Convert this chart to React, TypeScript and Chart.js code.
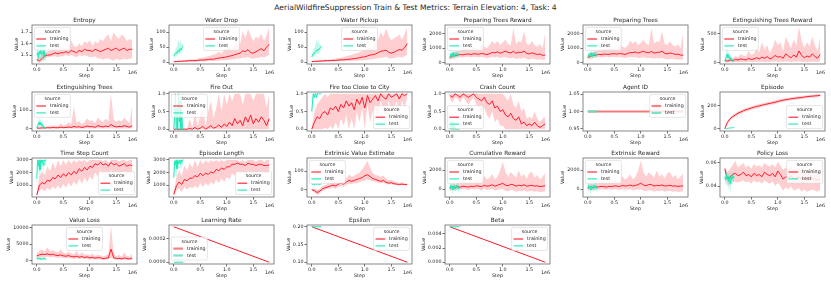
import React, { useEffect, useRef } from "react";
import { Chart, registerables } from "chart.js";
Chart.register(...registerables);

const FONT = "'DejaVu Sans', 'Liberation Sans', sans-serif";
const TEXT = "#262626";
const TICK = "#333333";
const FRAME = "#7a7a7a";
const RED = "#ff1a2a";
const RED_BAND = "rgba(255,30,45,0.22)";
const TEAL = "#1de9b6";
const TEAL_BAND = "rgba(29,233,182,0.28)";

const MAIN_TITLE = "AerialWildfireSuppression Train & Test Metrics: Terrain Elevation: 4, Task: 4";

// ---------- steps ----------
const STEPS = [
  0, 50000, 100000, 150000, 200000, 250000, 300000, 350000, 400000, 450000,
  500000, 550000, 600000, 650000, 700000, 750000, 800000, 850000, 900000, 950000,
  1000000, 1050000, 1100000, 1150000, 1200000, 1250000, 1300000, 1350000, 1400000, 1450000,
  1500000, 1550000, 1600000, 1650000, 1700000, 1750000, 1800000,
];
const TEST_STEPS = [0, 15000, 30000, 45000, 60000, 75000, 90000, 105000, 120000, 135000, 150000, 165000, 180000];
const LINE_STEPS = [0, 1800000];
const TEST_LINE_STEPS = [0, 180000];
const X_TICKS = [0, 500000, 1000000, 1500000];

// ---------- Entropy ----------
const ENTROPY = [
  1.46, 1.45, 1.47, 1.49, 1.5, 1.5, 1.51, 1.52, 1.51, 1.52,
  1.52, 1.53, 1.52, 1.54, 1.53, 1.52, 1.54, 1.53, 1.55, 1.54,
  1.54, 1.53, 1.55, 1.54, 1.53, 1.54, 1.55, 1.56, 1.54, 1.55,
  1.56, 1.54, 1.55, 1.56, 1.54, 1.55, 1.55,
];
const ENTROPY_HI = [
  1.48, 1.48, 1.5, 1.52, 1.53, 1.54, 1.55, 1.56, 1.55, 1.56,
  1.57, 1.56, 1.57, 1.63, 1.58, 1.57, 1.6, 1.58, 1.62, 1.6,
  1.63, 1.58, 1.62, 1.6, 1.64, 1.62, 1.66, 1.68, 1.62, 1.7,
  1.66, 1.64, 1.68, 1.66, 1.62, 1.64, 1.63,
];
const ENTROPY_LO = [
  1.44, 1.43, 1.45, 1.47, 1.48, 1.48, 1.49, 1.49, 1.48, 1.49,
  1.49, 1.5, 1.49, 1.5, 1.49, 1.48, 1.5, 1.49, 1.5, 1.49,
  1.48, 1.48, 1.49, 1.47, 1.47, 1.46, 1.47, 1.47, 1.46, 1.45,
  1.47, 1.46, 1.46, 1.47, 1.46, 1.47, 1.47,
];
const ENTROPY_TEST = [1.5, 1.52, 1.48, 1.53, 1.51, 1.55, 1.5, 1.52, 1.54, 1.49, 1.52, 1.51, 1.5];
const ENTROPY_TEST_HI = [1.55, 1.58, 1.56, 1.6, 1.57, 1.62, 1.58, 1.59, 1.6, 1.56, 1.58, 1.57, 1.56];
const ENTROPY_TEST_LO = [1.45, 1.46, 1.44, 1.47, 1.45, 1.48, 1.45, 1.46, 1.47, 1.44, 1.46, 1.45, 1.45];
const ENTROPY_TICKS = [1.5, 1.6, 1.7];

// ---------- Water Drop ----------
const WATER_DROP = [
  2, 2, 3, 3, 4, 4, 5, 5, 5, 6,
  7, 7, 8, 9, 10, 10, 12, 14, 15, 16,
  18, 20, 22, 25, 28, 30, 38, 35, 42, 32,
  30, 35, 40, 45, 38, 50, 60,
];
const WATER_DROP_HI = [
  4, 4, 5, 6, 7, 8, 9, 9, 10, 12,
  14, 15, 18, 20, 22, 25, 28, 35, 30, 40,
  45, 50, 40, 55, 70, 60, 105, 80, 110, 90,
  70, 85, 80, 95, 70, 90, 118,
];
const WATER_DROP_LO = [
  0, 0, 1, 1, 1, 1, 2, 2, 2, 2,
  3, 3, 3, 3, 4, 4, 5, 5, 6, 6,
  7, 8, 9, 10, 12, 12, 15, 15, 18, 12,
  12, 14, 15, 18, 15, 20, 25,
];
const WATER_DROP_TEST = [20, 25, 28, 32, 30, 38, 40, 35, 45, 42, 48, 50, 52];
const WATER_DROP_TEST_HI = [28, 35, 40, 50, 48, 65, 75, 60, 78, 65, 62, 60, 62];
const WATER_DROP_TEST_LO = [12, 15, 18, 22, 20, 25, 28, 25, 30, 30, 35, 38, 40];
const WATER_TICKS = [0, 50, 100];

// ---------- Water Pickup ----------
const WATER_PICKUP = [
  2, 3, 3, 4, 4, 5, 5, 5, 6, 6,
  7, 8, 8, 9, 10, 11, 12, 13, 15, 17,
  18, 21, 24, 25, 27, 32, 36, 38, 40, 33,
  30, 33, 38, 42, 40, 48, 62,
];
const WATER_PICKUP_HI = [
  4, 5, 5, 6, 7, 8, 9, 10, 10, 12,
  14, 15, 17, 20, 22, 24, 28, 30, 33, 38,
  42, 48, 45, 52, 65, 75, 100, 85, 112, 88,
  72, 80, 85, 92, 75, 95, 115,
];
const WATER_PICKUP_LO = [
  0, 0, 1, 1, 1, 1, 2, 2, 2, 2,
  3, 3, 3, 3, 4, 4, 5, 5, 6, 6,
  7, 8, 9, 10, 12, 13, 15, 16, 18, 13,
  12, 14, 16, 18, 16, 20, 25,
];
const WATER_PICKUP_TEST = [18, 24, 28, 30, 33, 36, 40, 38, 44, 42, 46, 50, 50];
const WATER_PICKUP_TEST_HI = [26, 35, 42, 48, 52, 62, 78, 62, 75, 66, 60, 58, 60];
const WATER_PICKUP_TEST_LO = [10, 14, 18, 20, 22, 25, 28, 26, 30, 30, 34, 38, 40];

// ---------- Preparing Trees Reward ----------
const PREP_REWARD = [
  350, 450, 480, 520, 560, 540, 580, 600, 560, 620,
  600, 580, 640, 600, 550, 620, 700, 680, 750, 650,
  720, 800, 700, 680, 780, 650, 720, 700, 800, 640,
  600, 680, 620, 560, 600, 500, 520,
];
const PREP_REWARD_HI = [
  500, 700, 750, 800, 850, 900, 950, 1000, 900, 1100,
  1000, 900, 1300, 1100, 1000, 1200, 1500, 1300, 1500, 1200,
  1400, 1600, 1300, 1200, 2400, 1300, 1500, 1400, 2200, 1300,
  1200, 1500, 1200, 1100, 1300, 1000, 2100,
];
const PREP_REWARD_LO = [
  200, 250, 300, 350, 380, 350, 380, 400, 350, 400,
  380, 350, 400, 350, 300, 350, 400, 350, 400, 300,
  350, 400, 300, 300, 350, 250, 300, 280, 350, 250,
  200, 280, 250, 200, 230, 180, 200,
];
const PREP_REWARD_TEST = [300, 600, 450, 650, 500, 700, 400, 600, 550, 650, 500, 600, 550];
const PREP_REWARD_TEST_HI = [500, 800, 650, 850, 700, 900, 600, 800, 750, 850, 700, 800, 750];
const PREP_REWARD_TEST_LO = [150, 400, 250, 450, 300, 500, 200, 400, 350, 450, 300, 400, 350];
const PREP_TICKS = [0, 1000, 2000];

// ---------- Preparing Trees ----------
const PREP_TREES = [
  360, 440, 500, 510, 570, 550, 590, 580, 570, 610,
  620, 590, 630, 610, 560, 640, 690, 700, 740, 660,
  730, 780, 710, 690, 770, 660, 700, 720, 790, 650,
  610, 670, 630, 570, 590, 520, 510,
];
const PREP_TREES_HI = [
  520, 690, 760, 790, 860, 880, 960, 980, 920, 1080,
  1020, 920, 1280, 1120, 1020, 1180, 1520, 1320, 1480, 1220,
  1380, 1580, 1320, 1220, 2380, 1320, 1480, 1420, 2180, 1320,
  1220, 1480, 1220, 1120, 1280, 1020, 2080,
];
const PREP_TREES_LO = [
  210, 240, 310, 340, 390, 360, 370, 410, 360, 390,
  390, 360, 390, 360, 310, 360, 390, 360, 390, 310,
  340, 390, 310, 310, 340, 260, 310, 290, 340, 260,
  210, 270, 260, 210, 220, 190, 210,
];
const PREP_TREES_TEST = [320, 580, 470, 630, 520, 680, 420, 620, 530, 640, 520, 590, 560];
const PREP_TREES_TEST_HI = [520, 780, 670, 830, 720, 880, 620, 820, 730, 840, 720, 790, 760];
const PREP_TREES_TEST_LO = [160, 380, 270, 430, 320, 480, 220, 420, 330, 440, 320, 390, 360];

// ---------- Extinguishing Trees Reward ----------
const EXT_REWARD = [
  30, 20, 40, 30, 50, 40, 60, 50, 40, 70,
  50, 60, 80, 60, 90, 70, 100, 60, 80, 120,
  90, 100, 70, 150, 110, 80, 130, 90, 200, 120,
  80, 110, 90, 150, 100, 70, 140,
];
const EXT_REWARD_HI = [
  60, 50, 80, 70, 110, 90, 140, 120, 100, 200,
  130, 150, 250, 180, 350, 220, 300, 160, 250, 400,
  300, 350, 200, 450, 350, 250, 400, 300, 620, 380,
  250, 350, 280, 450, 300, 200, 450,
];
const EXT_REWARD_LO = [
  0, 0, 5, 0, 5, 0, 10, 5, 0, 10,
  5, 5, 10, 5, 10, 5, 15, 5, 10, 15,
  10, 10, 5, 20, 10, 5, 15, 10, 20, 10,
  5, 10, 5, 15, 10, 5, 15,
];
const EXT_REWARD_TEST = [20, 60, 100, 140, 80, 120, 60, 90, 50, 40, 30, 20, 10];
const EXT_REWARD_TEST_HI = [50, 120, 180, 260, 160, 200, 120, 160, 100, 80, 60, 50, 30];
const EXT_REWARD_TEST_LO = [0, 10, 30, 50, 20, 40, 10, 30, 10, 5, 5, 0, 0];
const EXT_REWARD_TICKS = [0, 500];

// ---------- Extinguishing Trees ----------
const EXT_TREES = [
  3, 2, 4, 3, 5, 4, 6, 5, 4, 8,
  5, 6, 9, 6, 12, 8, 10, 6, 9, 14,
  10, 11, 7, 16, 12, 9, 14, 10, 22, 13,
  9, 12, 10, 16, 11, 8, 15,
];
const EXT_TREES_HI = [
  8, 6, 10, 9, 14, 12, 18, 16, 14, 28,
  18, 20, 35, 24, 120, 30, 40, 22, 35, 55,
  40, 45, 28, 60, 45, 35, 55, 40, 190, 50,
  35, 45, 38, 60, 42, 30, 130,
];
const EXT_TREES_LO = [
  0, 0, 0, 0, 0, 0, 1, 0, 0, 1,
  0, 0, 1, 0, 1, 0, 1, 0, 1, 2,
  1, 1, 0, 2, 1, 0, 1, 1, 2, 1,
  0, 1, 0, 1, 1, 0, 1,
];
const EXT_TREES_TEST = [5, 15, 25, 35, 20, 30, 15, 22, 12, 10, 6, 4, 2];
const EXT_TREES_TEST_HI = [12, 30, 45, 60, 40, 55, 30, 40, 25, 20, 12, 8, 5];
const EXT_TREES_TEST_LO = [0, 2, 8, 12, 5, 10, 3, 6, 2, 1, 0, 0, 0];
const EXT_TREES_TICKS = [0, 100];

// ---------- Fire Out ----------
const FIRE_OUT = [
  0, 0, 0, 0, 0, 0, 0.02, 0, 0.05, 0,
  0.03, 0.08, 0, 0.05, 0.1, 0.03, 0.06, 0.12, 0.05, 0.15,
  0.08, 0.2, 0.1, 0.3, 0.15, 0.25, 0.1, 0.35, 0.2, 0.4,
  0.15, 0.3, 0.2, 0.35, 0.25, 0.1, 0.3,
];
const FIRE_OUT_HI = [
  0, 0, 0.02, 0, 0.05, 0, 0.3, 0.05, 0.5, 0.1,
  0.4, 0.6, 0.1, 0.5, 0.8, 0.3, 0.6, 1, 0.5, 1,
  0.7, 1, 0.8, 1, 1, 1, 0.7, 1, 1, 1,
  0.8, 1, 1, 1, 1, 0.6, 1,
];
const FIRE_OUT_LO = [
  0, 0, 0, 0, 0, 0, 0, 0, 0, 0,
  0, 0, 0, 0, 0, 0, 0, 0, 0, 0,
  0, 0, 0, 0, 0, 0, 0, 0, 0, 0,
  0, 0, 0, 0, 0, 0, 0,
];
const FIRE_OUT_TEST = [0, 0.4, 1, 0, 0.6, 0, 1, 0.2, 0.8, 0, 0.5, 0, 0];
const FIRE_OUT_TEST_HI = [0, 0.8, 1, 0.3, 1, 0.2, 1, 0.5, 1, 0.2, 0.8, 0.1, 0];
const FIRE_OUT_TEST_LO = [0, 0, 0.6, 0, 0.2, 0, 0.7, 0, 0.5, 0, 0.2, 0, 0];
const UNIT_TICKS = [0, 0.5, 1];

// ---------- Fire too Close to City ----------
const FIRE_CITY = [
  0, 0.2, 0.35, 0.3, 0.45, 0.5, 0.4, 0.6, 0.55, 0.65,
  0.5, 0.7, 0.6, 0.8, 0.65, 0.75, 0.55, 0.85, 0.7, 0.9,
  0.6, 0.95, 0.75, 0.85, 0.95, 0.8, 1, 0.9, 0.85, 1,
  0.9, 0.95, 1, 0.85, 1, 0.95, 1,
];
const FIRE_CITY_HI = [
  0.05, 0.5, 0.7, 0.8, 0.9, 1, 0.9, 1, 1, 1,
  1, 1, 1, 1, 1, 1, 1, 1, 1, 1,
  1, 1, 1, 1, 1, 1, 1, 1, 1, 1,
  1, 1, 1, 1, 1, 1, 1,
];
const FIRE_CITY_LO = [
  0, 0, 0, 0, 0, 0.05, 0, 0.1, 0, 0.2,
  0, 0.3, 0.1, 0.4, 0, 0.3, 0, 0.5, 0.2, 0.6,
  0, 0.7, 0.2, 0.5, 0.6, 0.3, 0.8, 0.5, 0.4, 0.8,
  0.5, 0.6, 0.8, 0.4, 0.8, 0.6, 0.9,
];
const FIRE_CITY_TEST = [0.5, 0.8, 1, 0.9, 1, 1, 0.9, 1, 1, 1, 1, 1, 1];
const FIRE_CITY_TEST_HI = [0.7, 1, 1, 1, 1, 1, 1, 1, 1, 1, 1, 1, 1];
const FIRE_CITY_TEST_LO = [0.3, 0.6, 0.9, 0.8, 1, 1, 0.8, 1, 1, 1, 1, 1, 1];

// ---------- Crash Count ----------
const CRASH = [
  0.95, 0.9, 1, 0.95, 0.9, 1, 0.95, 0.9, 0.95, 1,
  0.9, 0.85, 0.8, 0.9, 0.75, 0.7, 0.8, 0.6, 0.65, 0.5,
  0.55, 0.4, 0.35, 0.45, 0.3, 0.25, 0.35, 0.15, 0.2, 0.1,
  0.15, 0.1, 0.2, 0.1, 0.05, 0.1, 0.15,
];
const CRASH_HI = [
  1, 1, 1, 1, 1, 1, 1, 1, 1, 1,
  1, 1, 1, 1, 1, 1, 1, 1, 1, 1,
  1, 0.9, 0.8, 1, 0.7, 0.6, 0.8, 0.5, 0.6, 0.3,
  0.35, 0.3, 0.5, 0.3, 0.2, 0.3, 0.35,
];
const CRASH_LO = [
  0.85, 0.75, 0.9, 0.85, 0.75, 0.9, 0.8, 0.7, 0.8, 0.9,
  0.7, 0.6, 0.5, 0.6, 0.4, 0.3, 0.5, 0.2, 0.3, 0.1,
  0.1, 0, 0, 0, 0, 0, 0, 0, 0, 0,
  0, 0, 0, 0, 0, 0, 0,
];
const CRASH_TEST = [0, 0.1, 0, 0.2, 0, 0, 0.1, 0, 0, 0, 0, 0, 0];
const CRASH_TEST_HI = [0.1, 0.3, 0.1, 0.4, 0.1, 0.1, 0.2, 0.1, 0, 0, 0, 0, 0];
const CRASH_TEST_LO = [0, 0, 0, 0, 0, 0, 0, 0, 0, 0, 0, 0, 0];

// ---------- Agent ID ----------
const AGENT_ID = [1, 1];
const AGENT_ID_TEST = [1, 1];
const AGENT_TICKS = [0.95, 1.0, 1.05];

// ---------- Episode ----------
const EPISODE = [
  0, 55, 85, 105, 120, 135, 145, 155, 165, 172,
  180, 187, 193, 198, 205, 210, 215, 220, 225, 230,
  237, 243, 248, 252, 256, 260, 263, 266, 269, 272,
  275, 278, 281, 283, 285, 287, 290,
];
const EPISODE_HI = [
  5, 70, 100, 120, 135, 150, 160, 170, 180, 187,
  195, 202, 208, 213, 220, 225, 230, 235, 240, 245,
  252, 258, 262, 266, 270, 273, 276, 279, 282, 285,
  288, 291, 294, 296, 298, 300, 303,
];
const EPISODE_LO = [
  0, 40, 70, 90, 105, 120, 130, 140, 150, 157,
  165, 172, 178, 183, 190, 195, 200, 205, 210, 215,
  222, 228, 234, 238, 242, 247, 250, 253, 256, 259,
  262, 265, 268, 270, 272, 274, 277,
];
const EPISODE_TEST = [0, 1, 2, 3, 4, 5, 6, 6, 7, 8, 9, 9, 10];
const EPISODE_TICKS = [0, 200];

// ---------- Time Step Count ----------
const TSC = [
  200, 1000, 1200, 1100, 1400, 1300, 1600, 1500, 1800, 1600,
  1900, 1700, 2000, 1800, 2100, 1900, 2300, 2100, 2400, 2200,
  2500, 2400, 2700, 2600, 2800, 2600, 2700, 2500, 2800, 2600,
  2700, 2500, 2600, 2700, 2500, 2600, 2550,
];
const TSC_HI = [
  400, 1700, 2100, 1800, 2500, 2100, 2800, 2300, 3000, 2500,
  3000, 2600, 3000, 2700, 3000, 2800, 3000, 2900, 3000, 2800,
  3000, 3000, 3000, 3000, 3000, 2900, 3000, 2800, 3000, 3000,
  3000, 2900, 3000, 3000, 2900, 3000, 3000,
];
const TSC_LO = [
  150, 600, 700, 500, 800, 600, 900, 700, 1000, 700,
  1100, 800, 1200, 900, 1300, 1000, 1500, 1100, 1600, 1200,
  1700, 1400, 2000, 1700, 2200, 1800, 2100, 1700, 2200, 1800,
  2100, 1700, 2000, 2100, 1800, 2000, 2000,
];
const TSC_TEST = [1500, 3000, 2500, 3000, 2200, 3000, 2800, 3000, 2600, 3000, 2900, 3000, 3000];
const TSC_TEST_HI = [2000, 3000, 3000, 3000, 2800, 3000, 3000, 3000, 3000, 3000, 3000, 3000, 3000];
const TSC_TEST_LO = [1000, 2500, 1800, 2600, 1600, 2500, 2200, 2600, 2000, 2600, 2400, 2600, 2600];
const TSC_TICKS = [1000, 2000, 3000];

// ---------- Episode Length ----------
const EP_LEN = [
  250, 950, 1250, 1050, 1450, 1350, 1550, 1550, 1750, 1650,
  1950, 1750, 1950, 1850, 2050, 1950, 2250, 2150, 2350, 2250,
  2450, 2450, 2650, 2650, 2750, 2650, 2650, 2550, 2750, 2650,
  2650, 2550, 2650, 2650, 2550, 2550, 2600,
];
const EP_LEN_HI = [
  450, 1650, 2150, 1750, 2550, 2150, 2750, 2350, 3000, 2450,
  3000, 2650, 3000, 2750, 3000, 2850, 3000, 2850, 3000, 2850,
  3000, 3000, 3000, 3000, 3000, 2850, 3000, 2850, 3000, 3000,
  3000, 2850, 3000, 3000, 2850, 3000, 3000,
];
const EP_LEN_LO = [
  200, 550, 750, 450, 850, 650, 850, 750, 950, 750,
  1150, 850, 1150, 950, 1250, 1050, 1450, 1150, 1550, 1250,
  1650, 1450, 1950, 1750, 2150, 1850, 2050, 1750, 2150, 1850,
  2050, 1750, 2050, 2050, 1850, 1950, 2000,
];
const EP_LEN_TEST = [1600, 2900, 2600, 3000, 2300, 2900, 2700, 3000, 2700, 3000, 2800, 3000, 3000];
const EP_LEN_TEST_HI = [2100, 3000, 3000, 3000, 2900, 3000, 3000, 3000, 3000, 3000, 3000, 3000, 3000];
const EP_LEN_TEST_LO = [1100, 2400, 1900, 2600, 1700, 2400, 2300, 2600, 2100, 2600, 2300, 2600, 2600];

// ---------- Extrinsic Value Estimate ----------
const EVE = [
  0, -5, -15, -8, 5, 10, 15, 20, 25, 20,
  30, 35, 30, 40, 50, 45, 50, 55, 60, 65,
  75, 80, 70, 60, 55, 50, 45, 50, 40, 35,
  38, 32, 30, 28, 30, 28, 27,
];
const EVE_HI = [
  5, 5, 0, 5, 20, 25, 30, 40, 45, 40,
  50, 55, 50, 60, 80, 70, 75, 85, 90, 110,
  130, 155, 120, 90, 80, 75, 70, 75, 60, 50,
  55, 45, 40, 38, 40, 35, 33,
];
const EVE_LO = [
  -5, -15, -30, -20, -5, 0, 5, 5, 10, 5,
  15, 20, 15, 25, 30, 30, 35, 35, 40, 45,
  50, 55, 50, 45, 40, 38, 35, 38, 30, 28,
  30, 25, 25, 22, 25, 22, 22,
];
const EVE_TEST = [25, 28, 30, 27, 29, 31, 28, 30, 29, 30, 28, 29, 30];
const EVE_TICKS = [0, 100];

// ---------- Cumulative Reward ----------
const CUM = [
  100, 200, 150, 250, 200, 300, 250, 200, 300, 250,
  350, 300, 250, 400, 300, 350, 450, 300, 400, 500,
  600, 400, 350, 500, 450, 300, 400, 350, 450, 300,
  350, 400, 300, 350, 250, 300, 350,
];
const CUM_HI = [
  400, 600, 500, 700, 600, 800, 700, 600, 900, 700,
  1000, 900, 700, 1400, 1000, 1200, 1600, 1000, 1300, 2000,
  2900, 1800, 1300, 1800, 1500, 1200, 2000, 1300, 1600, 1100,
  1700, 1800, 1200, 1500, 1000, 1300, 1700,
];
const CUM_LO = [
  -200, -100, -150, 0, -100, 0, -50, -100, 0, -50,
  0, -50, -100, 0, -100, -50, 0, -150, -100, -50,
  0, -200, -250, -100, -150, -300, -200, -250, -150, -300,
  -250, -200, -300, -250, -350, -300, -250,
];
const CUM_TEST = [0, 400, 100, 300, -100, 350, 200, 0, 400, 100, 250, 0, 200];
const CUM_TEST_HI = [300, 700, 400, 600, 200, 650, 500, 300, 700, 400, 550, 300, 500];
const CUM_TEST_LO = [-300, 0, -250, -50, -500, 0, -150, -350, 0, -250, -100, -400, -150];
const REWARD_TICKS = [0, 2000];

// ---------- Extrinsic Reward ----------
const EXR = [
  120, 180, 170, 230, 220, 280, 260, 210, 290, 260,
  330, 310, 260, 380, 320, 340, 430, 320, 380, 480,
  620, 420, 360, 480, 460, 320, 390, 360, 440, 320,
  340, 390, 310, 340, 270, 310, 340,
];
const EXR_HI = [
  420, 580, 520, 680, 620, 780, 720, 620, 880, 720,
  980, 880, 720, 1380, 1020, 1180, 1580, 1020, 1280, 1980,
  3000, 1780, 1320, 1780, 1520, 1220, 1980, 1320, 1580, 1120,
  1680, 1780, 1220, 1480, 1020, 1320, 1680,
];
const EXR_LO = [
  -180, -120, -130, -20, -80, -20, -60, -80, -20, -60,
  -20, -40, -80, -20, -80, -60, -20, -130, -80, -60,
  -20, -180, -230, -120, -130, -280, -180, -230, -130, -280,
  -230, -180, -280, -230, -330, -280, -230,
];
const EXR_TEST = [20, 380, 120, 280, -80, 330, 220, 20, 380, 120, 230, 20, 180];
const EXR_TEST_HI = [320, 680, 420, 580, 220, 630, 520, 320, 680, 420, 530, 320, 480];
const EXR_TEST_LO = [-280, 20, -230, -30, -480, 20, -130, -330, 20, -230, -80, -380, -130];

// ---------- Policy Loss ----------
const POLICY = [
  0.055, 0.046, 0.048, 0.05, 0.051, 0.049, 0.05, 0.052, 0.049, 0.05,
  0.048, 0.051, 0.049, 0.05, 0.048, 0.052, 0.05, 0.049, 0.051, 0.048,
  0.053, 0.05, 0.046, 0.048, 0.047, 0.049, 0.046, 0.047, 0.048, 0.046,
  0.047, 0.045, 0.046, 0.047, 0.046, 0.045, 0.046,
];
const POLICY_HI = [
  0.057, 0.052, 0.055, 0.058, 0.062, 0.056, 0.058, 0.06, 0.056, 0.058,
  0.055, 0.059, 0.057, 0.058, 0.056, 0.06, 0.058, 0.057, 0.059, 0.056,
  0.061, 0.058, 0.054, 0.056, 0.055, 0.057, 0.054, 0.055, 0.056, 0.054,
  0.055, 0.053, 0.054, 0.055, 0.054, 0.053, 0.054,
];
const POLICY_LO = [
  0.052, 0.04, 0.042, 0.044, 0.044, 0.043, 0.044, 0.045, 0.043, 0.044,
  0.042, 0.045, 0.043, 0.044, 0.042, 0.045, 0.043, 0.042, 0.044, 0.04,
  0.043, 0.04, 0.036, 0.039, 0.037, 0.04, 0.036, 0.037, 0.038, 0.035,
  0.037, 0.035, 0.036, 0.037, 0.036, 0.035, 0.037,
];
const POLICY_TEST = [0.048, 0.045, 0.05, 0.046, 0.049, 0.044, 0.047, 0.042, 0.048, 0.046, 0.049, 0.047, 0.048];
const POLICY_TEST_HI = [0.052, 0.05, 0.054, 0.051, 0.053, 0.049, 0.052, 0.048, 0.052, 0.05, 0.053, 0.051, 0.052];
const POLICY_TEST_LO = [0.044, 0.04, 0.045, 0.041, 0.044, 0.036, 0.04, 0.032, 0.043, 0.041, 0.045, 0.043, 0.044];
const POLICY_TICKS = [0.04, 0.06];

// ---------- Value Loss ----------
const VLOSS = [
  1500, 1800, 2000, 1900, 2100, 1800, 2000, 1700, 1600, 1800,
  1500, 1400, 1600, 1300, 1200, 1400, 1100, 1300, 1000, 1200,
  900, 1100, 800, 1000, 900, 700, 800, 900, 3500, 1000,
  700, 800, 600, 900, 700, 600, 800,
];
const VLOSS_HI = [
  2200, 3000, 3500, 2800, 4000, 3000, 3200, 2800, 2500, 3500,
  2500, 2200, 2800, 2200, 2000, 3000, 1800, 2500, 1800, 2000,
  1600, 2200, 1500, 1800, 1700, 1400, 1600, 2000, 10500, 2200,
  1400, 1800, 1300, 2500, 1500, 1300, 2200,
];
const VLOSS_LO = [
  800, 1000, 1200, 1100, 1300, 1000, 1200, 1000, 900, 1100,
  900, 800, 900, 700, 600, 800, 600, 700, 500, 600,
  400, 500, 400, 500, 400, 300, 400, 400, 1000, 400,
  300, 400, 300, 400, 300, 300, 400,
];
const VLOSS_TEST = [1000, 500, 800, 600, 900, 400, 700, 500, 800, 600, 700, 500, 600];
const VLOSS_TEST_HI = [1500, 900, 1200, 1000, 1300, 800, 1100, 900, 1200, 1000, 1100, 900, 1000];
const VLOSS_TEST_LO = [600, 200, 400, 300, 500, 100, 300, 200, 400, 300, 300, 200, 300];
const VLOSS_TICKS = [0, 5000, 10000];

// ---------- schedules ----------
const LEARNING_RATE = [0.0003, 0];
const LEARNING_RATE_TEST = [0, 0];
const LR_TICKS = [0, 0.0002];
const EPSILON = [0.2, 0.1];
const EPSILON_TEST = [0.2, 0.2];
const EPSILON_TICKS = [0.1, 0.15, 0.2];
const BETA = [0.005, 0];
const BETA_TEST = [0.005, 0.005];
const BETA_TICKS = [0, 0.002, 0.004];

// ---------- layout ----------
const COL_LEFT = [32, 169, 307, 445, 583, 720];
const ROW_TOP = [25, 92, 158, 225];
const PLOT_W = 105;
const PLOT_H = 39;
const PAD_L = 32;
const PAD_T = 12;
const PAD_R = 10;
const PAD_B = 16;

type Panel = {
  title: string;
  col: number;
  row: number;
  ymin: number;
  ymax: number;
  yticks: number[];
  dec: number;
  legend: string;
  legendAt?: [number, number];
  xs?: number[];
  txs?: number[];
  train: number[];
  trainHi?: number[];
  trainLo?: number[];
  test: number[];
  testHi?: number[];
  testLo?: number[];
  thick?: boolean;
  thickLegend?: boolean;
};

const PANELS: Panel[] = [
  { title: "Entropy", col: 0, row: 0, ymin: 1.422, ymax: 1.762, yticks: ENTROPY_TICKS, dec: 1, legend: "ul",
    train: ENTROPY, trainHi: ENTROPY_HI, trainLo: ENTROPY_LO, test: ENTROPY_TEST, testHi: ENTROPY_TEST_HI, testLo: ENTROPY_TEST_LO },
  { title: "Water Drop", col: 1, row: 0, ymin: -6, ymax: 124, yticks: WATER_TICKS, dec: 0, legend: "uc",
    train: WATER_DROP, trainHi: WATER_DROP_HI, trainLo: WATER_DROP_LO, test: WATER_DROP_TEST, testHi: WATER_DROP_TEST_HI, testLo: WATER_DROP_TEST_LO },
  { title: "Water Pickup", col: 2, row: 0, ymin: -6, ymax: 124, yticks: WATER_TICKS, dec: 0, legend: "uc",
    train: WATER_PICKUP, trainHi: WATER_PICKUP_HI, trainLo: WATER_PICKUP_LO, test: WATER_PICKUP_TEST, testHi: WATER_PICKUP_TEST_HI, testLo: WATER_PICKUP_TEST_LO },
  { title: "Preparing Trees Reward", col: 3, row: 0, ymin: -100, ymax: 2620, yticks: PREP_TICKS, dec: 0, legend: "ul",
    train: PREP_REWARD, trainHi: PREP_REWARD_HI, trainLo: PREP_REWARD_LO, test: PREP_REWARD_TEST, testHi: PREP_REWARD_TEST_HI, testLo: PREP_REWARD_TEST_LO },
  { title: "Preparing Trees", col: 4, row: 0, ymin: -100, ymax: 2620, yticks: PREP_TICKS, dec: 0, legend: "ul",
    train: PREP_TREES, trainHi: PREP_TREES_HI, trainLo: PREP_TREES_LO, test: PREP_TREES_TEST, testHi: PREP_TREES_TEST_HI, testLo: PREP_TREES_TEST_LO },
  { title: "Extinguishing Trees Reward", col: 5, row: 0, ymin: -30, ymax: 655, yticks: EXT_REWARD_TICKS, dec: 0, legend: "ul",
    train: EXT_REWARD, trainHi: EXT_REWARD_HI, trainLo: EXT_REWARD_LO, test: EXT_REWARD_TEST, testHi: EXT_REWARD_TEST_HI, testLo: EXT_REWARD_TEST_LO },

  { title: "Extinguishing Trees", col: 0, row: 1, ymin: -13, ymax: 198, yticks: EXT_TREES_TICKS, dec: 0, legend: "ul",
    train: EXT_TREES, trainHi: EXT_TREES_HI, trainLo: EXT_TREES_LO, test: EXT_TREES_TEST, testHi: EXT_TREES_TEST_HI, testLo: EXT_TREES_TEST_LO },
  { title: "Fire Out", col: 1, row: 1, ymin: -0.05, ymax: 1.05, yticks: UNIT_TICKS, dec: 1, legend: "ul",
    train: FIRE_OUT, trainHi: FIRE_OUT_HI, trainLo: FIRE_OUT_LO, test: FIRE_OUT_TEST, testHi: FIRE_OUT_TEST_HI, testLo: FIRE_OUT_TEST_LO },
  { title: "Fire too Close to City", col: 2, row: 1, ymin: -0.05, ymax: 1.05, yticks: UNIT_TICKS, dec: 1, legend: "lr",
    train: FIRE_CITY, trainHi: FIRE_CITY_HI, trainLo: FIRE_CITY_LO, test: FIRE_CITY_TEST, testHi: FIRE_CITY_TEST_HI, testLo: FIRE_CITY_TEST_LO },
  { title: "Crash Count", col: 3, row: 1, ymin: -0.05, ymax: 1.05, yticks: UNIT_TICKS, dec: 1, legend: "ll",
    train: CRASH, trainHi: CRASH_HI, trainLo: CRASH_LO, test: CRASH_TEST, testHi: CRASH_TEST_HI, testLo: CRASH_TEST_LO },
  { title: "Agent ID", col: 4, row: 1, ymin: 0.944, ymax: 1.056, yticks: AGENT_TICKS, dec: 2, legend: "ur",
    xs: LINE_STEPS, txs: TEST_LINE_STEPS, train: AGENT_ID, test: AGENT_ID_TEST, thick: true, thickLegend: true },
  { title: "Episode", col: 5, row: 1, ymin: -20, ymax: 319, yticks: EPISODE_TICKS, dec: 0, legend: "lr",
    train: EPISODE, trainHi: EPISODE_HI, trainLo: EPISODE_LO, test: EPISODE_TEST },

  { title: "Time Step Count", col: 0, row: 2, ymin: 60, ymax: 3150, yticks: TSC_TICKS, dec: 0, legend: "lr",
    train: TSC, trainHi: TSC_HI, trainLo: TSC_LO, test: TSC_TEST, testHi: TSC_TEST_HI, testLo: TSC_TEST_LO },
  { title: "Episode Length", col: 1, row: 2, ymin: 60, ymax: 3150, yticks: TSC_TICKS, dec: 0, legend: "lr",
    train: EP_LEN, trainHi: EP_LEN_HI, trainLo: EP_LEN_LO, test: EP_LEN_TEST, testHi: EP_LEN_TEST_HI, testLo: EP_LEN_TEST_LO },
  { title: "Extrinsic Value Estimate", col: 2, row: 2, ymin: -39, ymax: 170, yticks: EVE_TICKS, dec: 0, legend: "ul",
    train: EVE, trainHi: EVE_HI, trainLo: EVE_LO, test: EVE_TEST },
  { title: "Cumulative Reward", col: 3, row: 2, ymin: -850, ymax: 3300, yticks: REWARD_TICKS, dec: 0, legend: "ul",
    train: CUM, trainHi: CUM_HI, trainLo: CUM_LO, test: CUM_TEST, testHi: CUM_TEST_HI, testLo: CUM_TEST_LO },
  { title: "Extrinsic Reward", col: 4, row: 2, ymin: -850, ymax: 3300, yticks: REWARD_TICKS, dec: 0, legend: "ul",
    train: EXR, trainHi: EXR_HI, trainLo: EXR_LO, test: EXR_TEST, testHi: EXR_TEST_HI, testLo: EXR_TEST_LO },
  { title: "Policy Loss", col: 5, row: 2, ymin: 0.0305, ymax: 0.0643, yticks: POLICY_TICKS, dec: 2, legend: "ur",
    train: POLICY, trainHi: POLICY_HI, trainLo: POLICY_LO, test: POLICY_TEST, testHi: POLICY_TEST_HI, testLo: POLICY_TEST_LO },

  { title: "Value Loss", col: 0, row: 3, ymin: -920, ymax: 10700, yticks: VLOSS_TICKS, dec: 0, legend: "uc",
    train: VLOSS, trainHi: VLOSS_HI, trainLo: VLOSS_LO, test: VLOSS_TEST, testHi: VLOSS_TEST_HI, testLo: VLOSS_TEST_LO },
  { title: "Learning Rate", col: 1, row: 3, ymin: -0.000015, ymax: 0.000315, yticks: LR_TICKS, dec: 4, legend: "at", legendAt: [2.4, 12],
    xs: LINE_STEPS, txs: TEST_LINE_STEPS, train: LEARNING_RATE, test: LEARNING_RATE_TEST, thickLegend: true },
  { title: "Epsilon", col: 2, row: 3, ymin: 0.095, ymax: 0.205, yticks: EPSILON_TICKS, dec: 2, legend: "ur",
    xs: LINE_STEPS, txs: TEST_LINE_STEPS, train: EPSILON, test: EPSILON_TEST },
  { title: "Beta", col: 3, row: 3, ymin: -0.00025, ymax: 0.00525, yticks: BETA_TICKS, dec: 3, legend: "ur",
    xs: LINE_STEPS, txs: TEST_LINE_STEPS, train: BETA, test: BETA_TEST },
];

function pts(xs: number[], ys: number[]) {
  const n = Math.min(xs.length, ys.length);
  const out: { x: number; y: number }[] = [];
  for (let i = 0; i < n; i++) out.push({ x: xs[i], y: ys[i] });
  return out;
}

function drawLegend(ctx: CanvasRenderingContext2D, a: any, p: Panel) {
  const fs = 4.8;
  ctx.save();
  ctx.font = `${fs}px ${FONT}`;
  const tw = Math.max(ctx.measureText("training").width, ctx.measureText("source").width);
  const pad = 1.9, hl = 9.7, hp = 3.9;
  const w = pad * 2 + hl + hp + tw;
  const h = 23;
  const m = 2.4;
  let x = a.left + m;
  let y = a.top + m;
  if (p.legend === "ur") x = a.right - m - w;
  if (p.legend === "uc") x = (a.left + a.right) / 2 - w / 2;
  if (p.legend === "lr") { x = a.right - m - w; y = a.bottom - m - h; }
  if (p.legend === "ll") { y = a.bottom - m - h; }
  if (p.legend === "at" && p.legendAt) { x = a.left + p.legendAt[0]; y = a.top + p.legendAt[1]; }
  ctx.beginPath();
  if ((ctx as any).roundRect) (ctx as any).roundRect(x, y, w, h, 1.5);
  else ctx.rect(x, y, w, h);
  ctx.fillStyle = "rgba(255,255,255,0.8)";
  ctx.fill();
  ctx.strokeStyle = "rgba(200,200,200,0.9)";
  ctx.lineWidth = 0.5;
  ctx.stroke();
  ctx.fillStyle = TEXT;
  ctx.textBaseline = "middle";
  ctx.textAlign = "center";
  ctx.fillText("source", x + w / 2, y + 4.6);
  const rows: [string, string, string][] = [
    ["training", RED, "rgba(240,110,110,0.85)"],
    ["test", TEAL, "rgba(90,220,185,0.8)"],
  ];
  rows.forEach(([label, col, thickCol], i) => {
    const ry = y + 11.6 + i * 6.9;
    ctx.beginPath();
    ctx.moveTo(x + pad, ry);
    ctx.lineTo(x + pad + hl, ry);
    ctx.strokeStyle = p.thickLegend ? thickCol : col;
    ctx.lineWidth = p.thickLegend ? 2.2 : 1.1;
    ctx.stroke();
    ctx.textAlign = "left";
    ctx.fillStyle = TEXT;
    ctx.fillText(label, x + pad + hl + hp, ry);
  });
  ctx.restore();
}

function makeDecor(p: Panel) {
  return {
    id: "decor",
    afterDatasetsDraw(chart: any) {
      const { ctx, chartArea: a } = chart;
      ctx.save();
      ctx.strokeStyle = FRAME;
      ctx.lineWidth = 0.9;
      ctx.strokeRect(a.left, a.top, a.right - a.left, a.bottom - a.top);
      ctx.restore();
    },
    afterDraw(chart: any) {
      const { ctx, chartArea: a } = chart;
      drawLegend(ctx, a, p);
      ctx.save();
      ctx.fillStyle = TEXT;
      ctx.font = `5.8px ${FONT}`;
      ctx.textAlign = "center";
      ctx.textBaseline = "alphabetic";
      ctx.fillText(p.title, (a.left + a.right) / 2, a.top - 3);
      ctx.font = `4.8px ${FONT}`;
      ctx.textBaseline = "middle";
      ctx.fillText("Step", (a.left + a.right) / 2, a.bottom + 11.5);
      ctx.textAlign = "right";
      ctx.fillText("1e6", a.right, a.bottom + 9.2);
      const labels = p.yticks.map((v) => v.toFixed(p.dec));
      const mw = Math.max(...labels.map((l) => ctx.measureText(l).width));
      const vx = a.left - 3.6 - mw - 4;
      ctx.translate(vx, (a.top + a.bottom) / 2);
      ctx.rotate(-Math.PI / 2);
      ctx.textAlign = "center";
      ctx.fillText("Value", 0, 0);
      ctx.restore();
    },
  };
}

function SubPlot({ p }: { p: Panel }) {
  const ref = useRef<HTMLCanvasElement | null>(null);
  useEffect(() => {
    if (!ref.current) return;
    const xs = p.xs || STEPS;
    const txs = p.txs || TEST_STEPS;
    const lw = p.thick ? 2 : 1.0;
    const datasets: any[] = [];
    datasets.push({
      data: pts(txs, p.test),
      borderColor: p.thick ? "#6ad9b8" : TEAL,
      borderWidth: lw,
      pointRadius: 0,
      fill: false,
    });
    if (p.testHi && p.testLo) {
      datasets.push({ data: pts(txs, p.testHi), borderWidth: 0, borderColor: "transparent", pointRadius: 0, backgroundColor: TEAL_BAND, fill: "+1" });
      datasets.push({ data: pts(txs, p.testLo), borderWidth: 0, borderColor: "transparent", pointRadius: 0, fill: false });
    }
    datasets.push({
      data: pts(xs, p.train),
      borderColor: p.thick ? "#f07a7a" : RED,
      borderWidth: lw,
      pointRadius: 0,
      fill: false,
    });
    if (p.trainHi && p.trainLo) {
      datasets.push({ data: pts(xs, p.trainHi), borderWidth: 0, borderColor: "transparent", pointRadius: 0, backgroundColor: RED_BAND, fill: "+1" });
      datasets.push({ data: pts(xs, p.trainLo), borderWidth: 0, borderColor: "transparent", pointRadius: 0, fill: false });
    }
    const tickFont = { family: FONT, size: 4.8 };
    const grid = { display: true, drawOnChartArea: false, drawTicks: true, tickLength: 2.5, tickColor: TICK, tickWidth: 0.7 };
    const chart = new Chart(ref.current, {
      type: "line",
      data: { datasets },
      options: {
        animation: false,
        responsive: false,
        devicePixelRatio: 1,
        events: [],
        layout: { padding: { top: PAD_T, right: PAD_R, left: 0, bottom: 0 } },
        plugins: { legend: { display: false }, tooltip: { enabled: false }, title: { display: false } },
        elements: { line: { tension: 0 } },
        scales: {
          x: {
            type: "linear",
            min: -90000,
            max: 1890000,
            afterBuildTicks: (s: any) => { s.ticks = X_TICKS.map((v) => ({ value: v })); },
            afterFit: (s: any) => { s.height = PAD_B; },
            ticks: { font: tickFont, color: TEXT, padding: 0.5, maxRotation: 0, autoSkip: false, callback: (v: any) => (Number(v) / 1e6).toFixed(1) },
            grid,
            border: { display: false },
          },
          y: {
            type: "linear",
            min: p.ymin,
            max: p.ymax,
            afterBuildTicks: (s: any) => { s.ticks = p.yticks.map((v) => ({ value: v })); },
            afterFit: (s: any) => { s.width = PAD_L; },
            ticks: { font: tickFont, color: TEXT, padding: 1, autoSkip: false, callback: (v: any) => Number(v).toFixed(p.dec) },
            grid,
            border: { display: false },
          },
        },
      } as any,
      plugins: [makeDecor(p)],
    });
    return () => chart.destroy();
  }, [p]);
  const W = PAD_L + PLOT_W + PAD_R;
  const H = PAD_T + PLOT_H + PAD_B;
  return (
    <canvas
      ref={ref}
      width={W}
      height={H}
      style={{
        position: "absolute",
        left: COL_LEFT[p.col] - PAD_L,
        top: ROW_TOP[p.row] - PAD_T,
        width: W,
        height: H,
      }}
    />
  );
}

export default function App() {
  return (
    <div style={{ position: "absolute", left: 0, top: 0, width: 831, height: 283, background: "#ffffff", overflow: "hidden" }}>
      <div
        style={{
          position: "absolute",
          left: 0,
          top: 2.9,
          width: 831,
          textAlign: "center",
          fontFamily: FONT,
          fontSize: "7.6px",
          lineHeight: "9px",
          color: TEXT,
          whiteSpace: "nowrap",
        }}
      >
        {MAIN_TITLE}
      </div>
      {PANELS.map((p) => (
        <SubPlot key={p.title} p={p} />
      ))}
    </div>
  );
}
